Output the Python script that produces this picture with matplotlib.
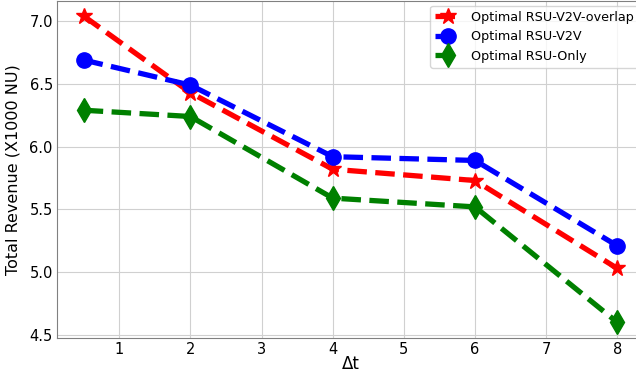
import matplotlib
matplotlib.use("Agg")
import matplotlib.pyplot as plt

delta_t = [0.5, 2, 4, 6, 8]
overlap = [7.04, 6.43, 5.82, 5.73, 5.03]
v2v = [6.69, 6.49, 5.92, 5.89, 5.21]
rsu_only = [6.29, 6.24, 5.59, 5.52, 4.60]

fig = plt.figure(figsize=(6.36, 3.74), dpi=100)
ax = fig.add_axes([0.0896, 0.097, 0.923, 0.901])

ax.plot(delta_t, overlap, "r*--", lw=3.8, ms=12, label="Optimal RSU-V2V-overlap")
ax.plot(delta_t, v2v, "bo--", lw=3.8, ms=11, label="Optimal RSU-V2V")
ax.plot(delta_t, rsu_only, "gd--", lw=3.8, ms=12, label="Optimal RSU-Only")

ax.grid(True, color="#d0d0d0", lw=0.8)
ax.set_axisbelow(True)
for s in ax.spines.values():
    s.set_color("#808080")
ax.tick_params(labelsize=10.5, length=0, pad=3)
ax.set_xticks([1, 2, 3, 4, 5, 6, 7, 8])
ax.set_xlabel("Δt", fontsize=12, labelpad=-1)
ax.set_ylabel("Total Revenue (X1000 NU)", fontsize=11.5, labelpad=6)
ax.legend(loc="upper right", fontsize=9.2, handlelength=2, borderaxespad=0.4)

fig.savefig("out.png", dpi=100)
plt.close(fig)
